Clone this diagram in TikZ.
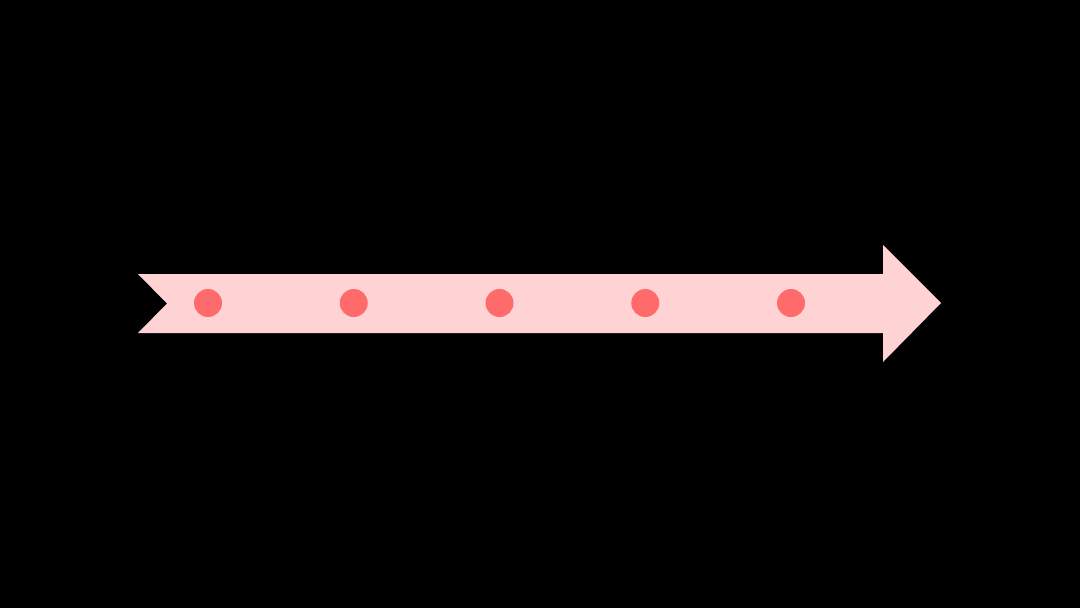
\documentclass[tikz,border=0pt]{standalone}
\usepackage{tikz}
\usetikzlibrary{positioning}

\definecolor{arrowpink}{HTML}{FFD2D4}
\definecolor{dotred}{HTML}{FF6B6B}

\begin{document}
\begin{tikzpicture}[x=1pt,y=-1pt,node distance=145.75pt,
		dot/.style={circle,fill=dotred,minimum size=28pt,inner sep=0pt}]

	\fill[black] (0,0) rectangle (1080,608);
	\useasboundingbox (0,0) rectangle (1080,608);

	\fill[arrowpink] (138,274) -- (883,274) -- (883,245) -- (941,303)
		-- (883,362) -- (883,333) -- (138,333) -- (167,303.5) -- cycle;

	\node[dot] (D1) at (208,303) {};
	\node[dot] (D2) [right of=D1] {};
	\node[dot] (D3) [right of=D2] {};
	\node[dot] (D4) [right of=D3] {};
	\node[dot] (D5) [right of=D4] {};
\end{tikzpicture}
\end{document}
